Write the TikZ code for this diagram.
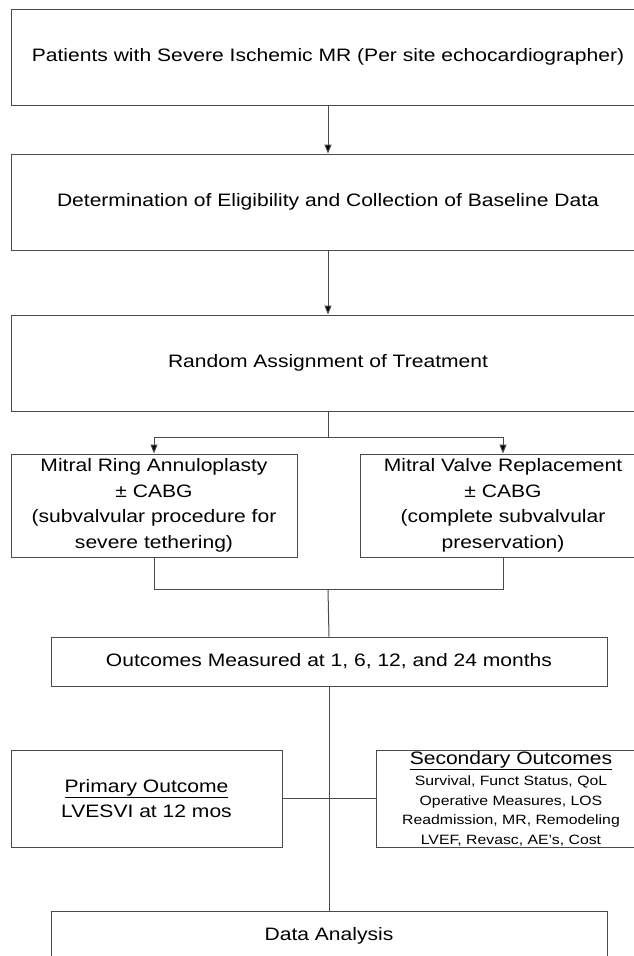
\documentclass[tikz,border=0pt]{standalone}
\usepackage{fontspec}
\setmainfont[FakeStretch=1.17]{Liberation Sans}
\usetikzlibrary{arrows.meta}
\definecolor{linegray}{HTML}{4A4A4A}
\tikzset{
  box/.style={draw=linegray, line width=1pt, rectangle, inner sep=0pt, align=center,
    font=\fontsize{18}{25.5}\selectfont, text=black},
  conn/.style={draw=linegray, line width=1pt},
  arr/.style={conn, -{Triangle[length=9pt,width=7pt,fill=black]}}
}
\newcommand{\smalltxt}{\fontsize{13.5}{19.3}\selectfont}
\begin{document}
\begin{tikzpicture}[x=1pt,y=-1pt]
\useasboundingbox (0,0) rectangle (634,956);
\fill[white] (0,0) rectangle (634,956);

\node[box, minimum width=634pt, minimum height=96pt] (pat) at (328,57)
  {Patients with Severe Ischemic MR (Per site echocardiographer)};
\node[box, minimum width=634pt, minimum height=96pt] (elig) at (328,202)
  {Determination of Eligibility and Collection of Baseline Data};
\node[box, minimum width=634pt, minimum height=96pt] (rand) at (328,363)
  {Random Assignment of Treatment};

\node[box, minimum width=286pt, minimum height=103pt] (ring) at (154,505.5)
  {Mitral Ring Annuloplasty\\± CABG\\(subvalvular procedure for\\severe tethering)};
\node[box, minimum width=286pt, minimum height=103pt] (repl) at (503,505.5)
  {Mitral Valve Replacement\\± CABG\\(complete subvalvular\\preservation)};

\node[box, minimum width=556pt, minimum height=49pt] (meas) at (329,661.5)
  {Outcomes Measured at 1, 6, 12, and 24 months};

\node[box, minimum width=271pt, minimum height=97pt] (prim) at (146.5,798.5)
  {\underline{Primary Outcome}\\LVESVI at 12 mos};
\node[box, minimum width=270pt, minimum height=97pt] (sec) at (511,798.5)
  {\underline{Secondary Outcomes}\\[-4pt]
   {\smalltxt Survival, Funct Status, QoL}\\[-6pt]
   {\smalltxt Operative Measures, LOS}\\[-6pt]
   {\smalltxt Readmission, MR, Remodeling}\\[-6pt]
   {\smalltxt LVEF, Revasc, AE's, Cost}};

\node[box, minimum width=556pt, minimum height=49pt] (data) at (329,935.5)
  {Data Analysis};

\coordinate (split) at (328,437);
\coordinate (merge) at (328,589.5);

\draw[arr] (pat.south) -- (elig.north);
\draw[arr] (elig.south) -- (rand.north);
\draw[conn] (rand.south) -- (split);
\draw[arr] (split) -| (ring.north);
\draw[arr] (split) -| (repl.north);
\draw[conn] (ring.south) |- (merge) -| (repl.south);
\draw[conn] (merge) -- (meas.north);
\draw[conn] (meas.south) -- (data.north);
\draw[conn] (prim.east) -- (sec.west);
\end{tikzpicture}
\end{document}
